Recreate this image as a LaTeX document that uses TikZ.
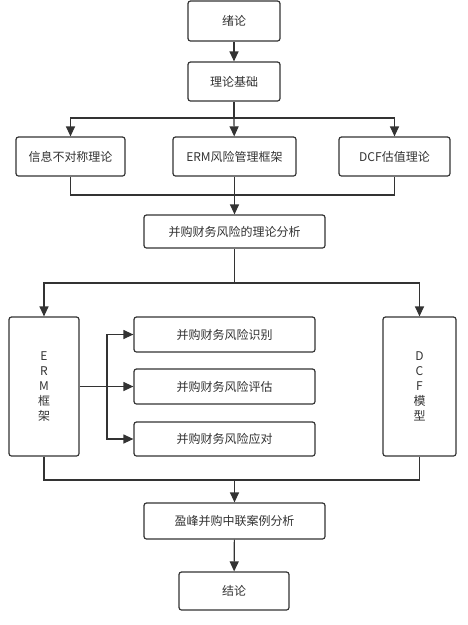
\documentclass[tikz,border=0pt]{standalone}
\usepackage{fontspec}
\setmainfont{Noto Sans CJK SC}
\usepackage{tikz}
\usetikzlibrary{arrows.meta, positioning, calc}
\definecolor{linegray}{HTML}{333333}

\begin{document}
\begin{tikzpicture}[x=1pt, y=1pt, font=\fontsize{12}{15}\selectfont, text=linegray,
    box/.style={draw=linegray, line width=1.2pt, rounded corners=2.5pt, fill=white, align=center, inner sep=0pt},
    line/.style={draw=linegray, line width=1.2pt},
    arrow/.style={line, -{Triangle[length=10pt, width=9pt]}}]
    \useasboundingbox (0,0) rectangle (467,-625);
    % main column
    \node[box, minimum width=92pt, minimum height=40pt] (intro) at (234,-21) {绪论};
    \node[box, minimum width=92pt, minimum height=39pt] (basis) at (234,-81.5) {理论基础};
    \node[box, minimum width=109pt, minimum height=39pt] (info) at (70.5,-156.5) {信息不对称理论};
    \node[box, minimum width=123pt, minimum height=39pt] (erm) at (234.5,-156.5) {ERM风险管理框架};
    \node[box, minimum width=111pt, minimum height=39pt] (dcf) at (394.5,-156.5) {DCF估值理论};
    \node[box, minimum width=181pt, minimum height=33pt] (theory) at (234.5,-231.5) {并购财务风险的理论分析};
    % middle part
    \node[box, minimum width=70pt, minimum height=139pt] (ermfw) at (44,-386.5) {E\\R\\M\\框\\架};
    \node[box, minimum width=73pt, minimum height=139pt] (dcfm) at (419.5,-386.5) {D\\C\\F\\模\\型};
    \node[box, minimum width=181pt, minimum height=35pt] (ident) at (224.5,-334.5) {并购财务风险识别};
    \node[box, minimum width=181pt, minimum height=35pt] (eval) at (224.5,-386.5) {并购财务风险评估};
    \node[box, minimum width=181pt, minimum height=34pt] (resp) at (224.5,-439) {并购财务风险应对};
    % case and end
    \node[box, minimum width=181pt, minimum height=36pt] (case) at (234.5,-521) {盈峰并购中联案例分析};
    \node[box, minimum width=110pt, minimum height=38pt] (concl) at (234,-591) {结论};

    \coordinate (split1) at (234,-118);
    \coordinate (join1) at (234.5,-195);
    \coordinate (split2) at (234.5,-283);
    \coordinate (fork) at (107,-386.5);
    \coordinate (join2) at (234.5,-480);

    \draw[arrow] (intro) -- (basis);
    \draw[line] (basis) -- (split1);
    \draw[arrow] (split1) -| (info.north);
    \draw[arrow] (split1) -- (erm);
    \draw[arrow] (split1) -| (dcf.north);
    \draw[line] (info.south) |- (join1) -| (dcf.south);
    \draw[arrow] (erm) -- (theory);
    \draw[line] (theory) -- (split2);
    \draw[arrow] (split2) -| (ermfw.north);
    \draw[arrow] (split2) -| (dcfm.north);
    \draw[arrow] (ermfw.east) -- (eval.west);
    \draw[arrow] (fork) |- (ident.west);
    \draw[arrow] (fork) |- (resp.west);
    \draw[line] (ermfw.south) |- (join2) -| (dcfm.south);
    \draw[arrow] (join2) -- (case);
    \draw[arrow] (case) -- (concl);
\end{tikzpicture}
\end{document}
